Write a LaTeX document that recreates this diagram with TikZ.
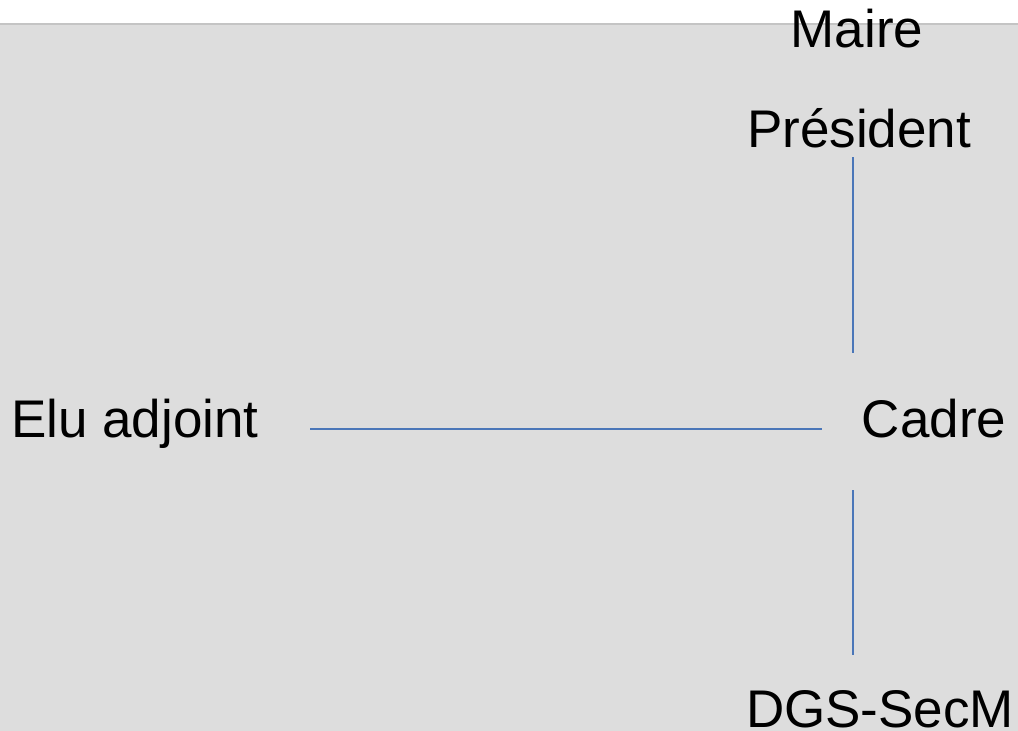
\documentclass[tikz,border=0pt]{standalone}
\usepackage{fontspec}
\setmainfont{Liberation Sans}
\usepackage{xcolor}
\definecolor{panelgray}{HTML}{DDDDDD}
\definecolor{edgegray}{HTML}{C4C4C4}
\definecolor{linkblue}{HTML}{4A76B8}

\begin{document}
\begin{tikzpicture}[x=1pt,y=-1pt,
    lbl/.style={anchor=base,inner sep=0pt,font=\fontsize{53}{60}\selectfont},
    link/.style={draw=linkblue,line width=1.6pt}]
    \useasboundingbox (0,0) rectangle (1018,731);
    % background panel
    \fill[panelgray] (0,24) rectangle (1018,731);
    \draw[edgegray,line width=1.5pt] (0,24) -- (1018,24);

    % roles
    \node[lbl] (maire) at (857,47) {Maire};
    \node[lbl] (pres) at (859,147) {Président};
    \node[lbl] (cadre) at (934,437) {Cadre};
    \node[lbl] (elu) at (135,437) {Elu adjoint};
    \node[lbl] (dgs) at (880,727) {DGS-SecM};

    % links
    \draw[link] (pres.base) ++(-6,10) -- ++(0,196);
    \draw[link] (elu.base) ++(175,-8) -- ++(512,0);
    \draw[link] (cadre.base) ++(-81,53) -- ++(0,165);
\end{tikzpicture}
\end{document}
